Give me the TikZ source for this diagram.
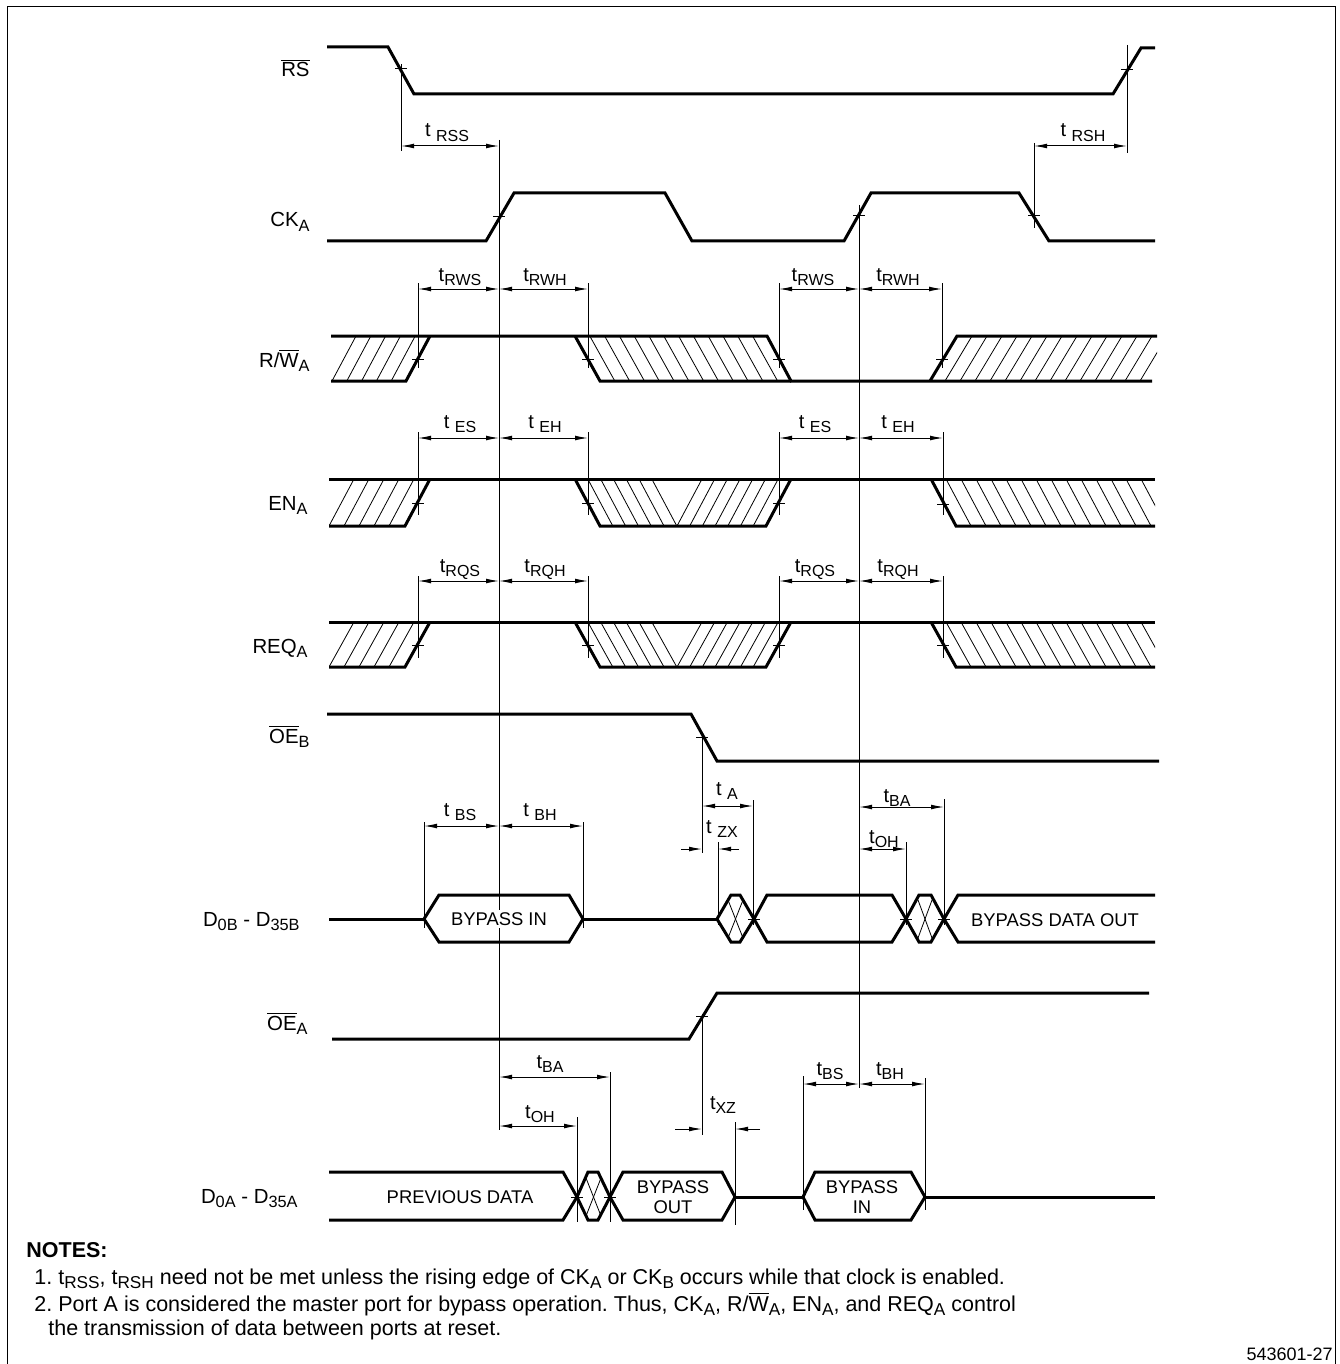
\documentclass[tikz,border=0pt]{standalone}
\usepackage{fontspec}
\setmainfont{Liberation Sans}
\usetikzlibrary{arrows.meta}
\frenchspacing
\newcommand\mytick[2]{\draw[tln] ({#1-6},#2)--({#1+6},#2);}
\newcommand\sub[1]{\raisebox{-0.4ex}{\scalebox{0.8}{#1}}}
\begin{document}
\begin{tikzpicture}[x=0.5pt,y=-0.5pt,
  sig/.style={line width=1.5pt},
  tln/.style={line width=0.5pt},
  hatchln/.style={line width=0.4pt},
  dim/.style={line width=0.5pt,{Latex[length=6.5pt,width=2.4pt]}-{Latex[length=6.5pt,width=2.4pt]}},
  dimr/.style={line width=0.5pt,-{Latex[length=6.5pt,width=2.4pt]}},
  lab/.style={font=\fontsize{10.2}{12}\selectfont, anchor=base east, inner sep=0},
  tl/.style={font=\fontsize{10}{12}\selectfont, anchor=base, inner sep=0},
  bus/.style={font=\fontsize{9.2}{10}\selectfont, align=center, inner sep=0},
  note/.style={font=\fontsize{10.75}{12}\selectfont, anchor=base west, inner sep=0},
]
\useasboundingbox (0,0) rectangle (1339,1364);
% frame
\draw[tln] (7,1364) -- (7,7) -- (1335,7) -- (1335,1364);

% ===== RS =====
\draw[sig] (327,47) -- (388,47) -- (414,94) -- (1113,94) -- (1141,48) -- (1155,48);
\mytick{401}{69}
\mytick{1127}{70}
\draw[tln] (401,64) -- (401,151);
\draw[tln] (1127,45) -- (1127,153);

% ===== CK_A =====
\draw[sig] (327,241) -- (486,241) -- (514,193) -- (665,193) -- (692,241) -- (844,241) -- (871,193) -- (1019,193) -- (1049,241) -- (1155,241);
\mytick{499}{217}
\mytick{859}{216}
\mytick{1034}{216}
\draw[tln] (1034,143) -- (1034,228);

% main reference lines
\coordinate (m1t) at (499,140);
\coordinate (m1b) at (499,1130);
\coordinate (m2t) at (859,205);
\coordinate (m2b) at (859,1088);
\draw[tln] (m1t) -- (m1b);
\draw[tln] (m2t) -- (m2b);

\draw[dim] (401,146) -- (499,146);
\draw[dim] (1034,146) -- (1127,146);
\node[tl] (trss) at (447,137) {t \sub{RSS}};
\node[tl] (trsh) at (1083,137) {t \sub{RSH}};

% ===== R/W_A =====
\begin{scope}
  \clip (331,336)--(430,336)--(406,381)--(331,381)--cycle;
  \foreach \x in {332,346.8,...,393} \draw[hatchln] (\x,381)--(\x+24,336);
\end{scope}
\begin{scope}
  \clip (575,336)--(767,336)--(791,381)--(600,381)--cycle;
  \foreach \x in {589.8,604.6,...,756} \draw[hatchln] (\x,336)--(\x+25,381);
\end{scope}
\begin{scope}
  \clip (930,381)--(957,336)--(1157,336)--(1157,381)--cycle;
  \foreach \x in {945,960,...,1150} \draw[hatchln] (\x,381)--(\x+27,336);
\end{scope}
\draw[sig] (331,336) -- (767,336) -- (791,381) -- (1152,381);
\draw[sig] (331,381) -- (406,381) -- (430,336);
\draw[sig] (575,336) -- (600,381) -- (791,381);
\draw[sig] (930,381) -- (957,336) -- (1157,336);
\mytick{418}{359}
\mytick{588}{359}
\mytick{779}{359}
\mytick{942}{359}
\foreach \x in {418,588,779,942} \draw[tln] (\x,283) -- (\x,368);
\draw[dim] (418,289) -- (499,289);
\draw[dim] (499,289) -- (588,289);
\draw[dim] (779,289) -- (859,289);
\draw[dim] (859,289) -- (942,289);
\node[tl] (trws1) at (460,281) {t\sub{RWS}};
\node[tl] (trwh1) at (545,281) {t\sub{RWH}};
\node[tl] (trws2) at (813,281) {t\sub{RWS}};
\node[tl] (trwh2) at (898,281) {t\sub{RWH}};

% ===== EN_A and REQ_A =====
\foreach \hy/\ly in {479/526,622/667}{
  \begin{scope}
    \clip (329,\hy)--(430,\hy)--(405,\ly)--(329,\ly)--cycle;
    \foreach \x in {329,344,...,390} \draw[hatchln] (\x,\ly)--(\x+25,\hy);
  \end{scope}
  \begin{scope}
    \clip (575,\hy)--(791,\hy)--(766,\ly)--(600,\ly)--cycle;
    \foreach \x in {587.8,600.6,...,653} \draw[hatchln] (\x,\hy)--(\x+25,\ly);
    \foreach \x in {677,689.7,...,755} \draw[hatchln] (\x,\ly)--(\x+25,\hy);
  \end{scope}
  \begin{scope}
    \clip (931,\hy)--(1155,\hy)--(1155,\ly)--(956,\ly)--cycle;
    \foreach \x in {946,961,...,1150} \draw[hatchln] (\x,\hy)--(\x+25,\ly);
  \end{scope}
  \draw[sig] (329,\hy) -- (1155,\hy);
  \draw[sig] (329,\ly) -- (405,\ly) -- (430,\hy);
  \draw[sig] (575,\hy) -- (600,\ly) -- (766,\ly) -- (791,\hy);
  \draw[sig] (931,\hy) -- (956,\ly) -- (1155,\ly);
}
\mytick{418}{503}
\mytick{588}{503}
\mytick{779}{503}
\mytick{943}{504}
\foreach \x in {418,588,779,943} \draw[tln] (\x,432) -- (\x,515);
\draw[dim] (418,438) -- (499,438);
\draw[dim] (499,438) -- (588,438);
\draw[dim] (779,438) -- (859,438);
\draw[dim] (859,438) -- (943,438);
\node[tl] (tes1) at (460,428) {t \sub{ES}};
\node[tl] (teh1) at (545,428) {t \sub{EH}};
\node[tl] (tes2) at (815,428) {t \sub{ES}};
\node[tl] (teh2) at (898,428) {t \sub{EH}};

\mytick{418}{645}
\mytick{588}{645}
\mytick{779}{645}
\mytick{943}{645}
\foreach \x in {418,588,779,943} \draw[tln] (\x,576) -- (\x,658);
\draw[dim] (418,581) -- (499,581);
\draw[dim] (499,581) -- (588,581);
\draw[dim] (779,581) -- (859,581);
\draw[dim] (859,581) -- (943,581);
\node[tl] (trqs1) at (460,572) {t\sub{RQS}};
\node[tl] (trqh1) at (545,572) {t\sub{RQH}};
\node[tl] (trqs2) at (815,572) {t\sub{RQS}};
\node[tl] (trqh2) at (898,572) {t\sub{RQH}};

% ===== OE_B =====
\draw[sig] (327,714) -- (691,714) -- (717,761) -- (1159,761);
\mytick{702}{737}
\draw[tln] (702,735) -- (702,853);
\draw[dim] (702,806) -- (753,806);
\draw[tln] (753,800) -- (753,925);
\node[tl] (ta) at (727,795) {t \sub{A}};
\draw[dimr] (681,849) -- (702,849);
\draw[dimr] (739,849) -- (718,849);
\draw[tln] (718,842) -- (718,925);
\node[tl] (tzx) at (722,833) {t \sub{ZX}};
\draw[dim] (859,807) -- (944,807);
\draw[tln] (944,799) -- (944,925);
\node[tl] (tba1) at (897,802) {t\sub{BA}};
\draw[dim] (859,849) -- (906,849);
\draw[tln] (906,842) -- (906,925);
\node[tl] (toh1) at (884,843) {t\sub{OH}};
\draw[dim] (424,826) -- (499,826);
\draw[dim] (499,826) -- (583,826);
\draw[tln] (424,822) -- (424,928);
\draw[tln] (583,822) -- (583,928);
\node[tl] (tbs1) at (460,816) {t \sub{BS}};
\node[tl] (tbh1) at (540,816) {t \sub{BH}};

% ===== D0B bus =====
\draw[sig] (329,919) -- (424,919);
\draw[sig] (424,919) -- (439,895) -- (569,895) -- (583,919) -- (569,942) -- (439,942) -- cycle;
\draw[sig] (583,919) -- (717,919);
\draw[sig] (717,919) -- (731,895) -- (740,895) -- (754,919) -- (740,942) -- (731,942) -- cycle;
\draw[hatchln] (728,900) -- (743,938);
\draw[hatchln] (743,900) -- (728,938);
\draw[sig] (754,919) -- (767,895) -- (892,895) -- (906,919) -- (892,942) -- (767,942) -- cycle;
\draw[sig] (906,919) -- (919,895) -- (931,895) -- (944,919) -- (931,942) -- (919,942) -- cycle;
\draw[hatchln] (918,900) -- (932,938);
\draw[hatchln] (932,900) -- (918,938);
\draw[sig] (1155,895) -- (958,895) -- (944,919) -- (958,942) -- (1155,942);
\mytick{754}{919}
\mytick{906}{919}
\mytick{944}{919}
\node[bus,fill=white,inner sep=1pt] (bin1) at (499,919) {BYPASS IN};
\node[bus] (bdo) at (1055,920) {BYPASS DATA OUT};

% ===== OE_A =====
\draw[sig] (332,1039) -- (689,1039) -- (717,993) -- (1149,993);
\mytick{702}{1016}
\draw[tln] (702,1014) -- (702,1135);
\draw[dimr] (675,1129) -- (702,1129);
\draw[dimr] (760,1129) -- (735,1129);
\draw[tln] (735,1122) -- (735,1225);
\node[tl] (txz) at (723,1109) {t\sub{XZ}};
\draw[dim] (499,1077) -- (610,1077);
\draw[tln] (610,1072) -- (610,1222);
\node[tl] (tba2) at (550,1068) {t\sub{BA}};
\draw[dim] (499,1126) -- (577,1126);
\draw[tln] (577,1117) -- (577,1222);
\node[tl] (toh2) at (540,1118) {t\sub{OH}};
\draw[dim] (803,1084) -- (859,1084);
\draw[dim] (859,1084) -- (925,1084);
\draw[tln] (803,1076) -- (803,1210);
\draw[tln] (925,1078) -- (925,1210);
\node[tl] (tbs2) at (830,1075) {t\sub{BS}};
\node[tl] (tbh2) at (890,1075) {t\sub{BH}};

% ===== D0A bus =====
\draw[sig] (329,1172) -- (563,1172) -- (577,1197) -- (563,1220) -- (329,1220);
\draw[sig] (577,1197) -- (588,1172) -- (598,1172) -- (610,1197) -- (598,1220) -- (588,1220) -- cycle;
\draw[hatchln] (586,1178) -- (601,1216);
\draw[hatchln] (601,1178) -- (586,1216);
\draw[sig] (610,1197) -- (623,1172) -- (722,1172) -- (735,1197) -- (722,1220) -- (623,1220) -- cycle;
\draw[sig] (735,1197) -- (803,1197);
\draw[sig] (803,1197) -- (815,1172) -- (911,1172) -- (925,1197) -- (911,1220) -- (815,1220) -- cycle;
\draw[sig] (925,1197) -- (1155,1197);
\mytick{577}{1197}
\mytick{610}{1197}
\node[bus] (prev) at (460,1197) {PREVIOUS DATA};
\node[bus] (bout) at (673,1197) {BYPASS\\OUT};
\node[bus] (bin2) at (862,1197) {BYPASS\\IN};

% ===== signal labels =====
\node[lab] (lrs) at (310,77) {$\overline{\mbox{RS}}$};
\node[lab] (lck) at (310,227) {CK\sub{A}};
\node[lab] (lrw) at (310,367) {R/$\overline{\mbox{W}}$\sub{A}};
\node[lab] (len) at (308,510) {EN\sub{A}};
\node[lab] (lreq) at (308,653) {REQ\sub{A}};
\node[lab] (loeb) at (310,743) {$\overline{\mbox{OE}}$\sub{B}};
\node[lab] (ld0b) at (300,926) {D\sub{0B} - D\sub{35B}};
\node[lab] (loea) at (308,1030) {$\overline{\mbox{OE}}$\sub{A}};
\node[lab] (ld0a) at (298,1203) {D\sub{0A} - D\sub{35A}};

% ===== notes =====
\node[note,font=\fontsize{10.75}{12}\selectfont\bfseries] (notes) at (26,1257) {NOTES:};
\node[note] (n1) at (34,1284) {1. t\sub{RSS}, t\sub{RSH} need not be met unless the rising edge of CK\sub{A} or CK\sub{B} occurs while that clock is enabled.};
\node[note] (n2) at (34,1311) {2. Port A is considered the master port for bypass operation. Thus, CK\sub{A}, R/$\overline{\mbox{W}}$\sub{A}, EN\sub{A}, and REQ\sub{A} control};
\node[note] (n3) at (48,1335) {the transmission of data between ports at reset.};
\node[font=\fontsize{9}{11}\selectfont, anchor=base east, inner sep=0] (fig) at (1333,1360) {543601-27};
\end{tikzpicture}
\end{document}
